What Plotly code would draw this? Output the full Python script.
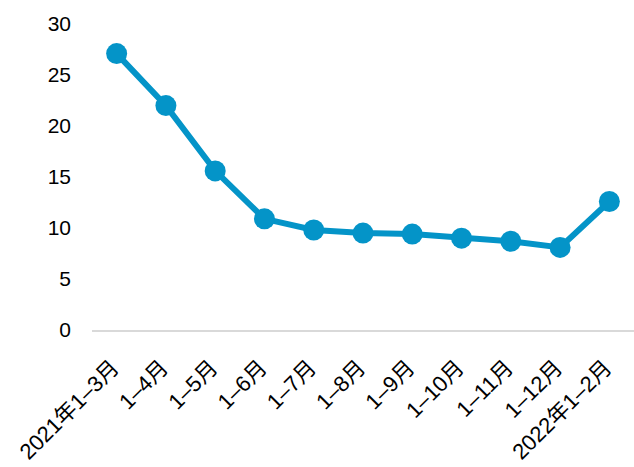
import plotly.graph_objects as go

# Cumulative periods and values
periods = ["2021年1–3月", "1–4月", "1–5月", "1–6月", "1–7月", "1–8月",
           "1–9月", "1–10月", "1–11月", "1–12月", "2022年1–2月"]
values = [27.1, 22.0, 15.6, 10.9, 9.8, 9.5, 9.4, 9.0, 8.7, 8.1, 12.6]
y_ticks = [0, 5, 10, 15, 20, 25, 30]

color = "#0494C8"
font_family = "Liberation Sans, Arial, Noto Sans CJK SC, sans-serif"

fig = go.Figure(
    go.Scatter(
        x=periods,
        y=values,
        mode="lines+markers",
        line=dict(color=color, width=6),
        marker=dict(color=color, size=21),
        cliponaxis=False,
    )
)

fig.update_layout(
    width=634,
    height=467,
    margin=dict(l=92, r=0, t=24, b=137, autoexpand=False),
    paper_bgcolor="white",
    plot_bgcolor="white",
    showlegend=False,
    font=dict(family=font_family, size=21, color="#000000"),
)

fig.update_xaxes(
    type="category",
    range=[-0.5, len(periods) - 0.5],
    automargin=False,
    tickangle=-45,
    showgrid=False,
    showline=True,
    linecolor="#D9D9D9",
    linewidth=2,
    ticks="",
    tickfont=dict(size=22),
    ticklabelstandoff=14,
    ticklabelshift=-4,
)

fig.update_yaxes(
    range=[0, 30],
    automargin=False,
    tickvals=y_ticks,
    showgrid=False,
    zeroline=False,
    showline=False,
    ticks="",
    ticklabelstandoff=20,
    tickfont=dict(size=21),
)

fig.write_html("out.html")
